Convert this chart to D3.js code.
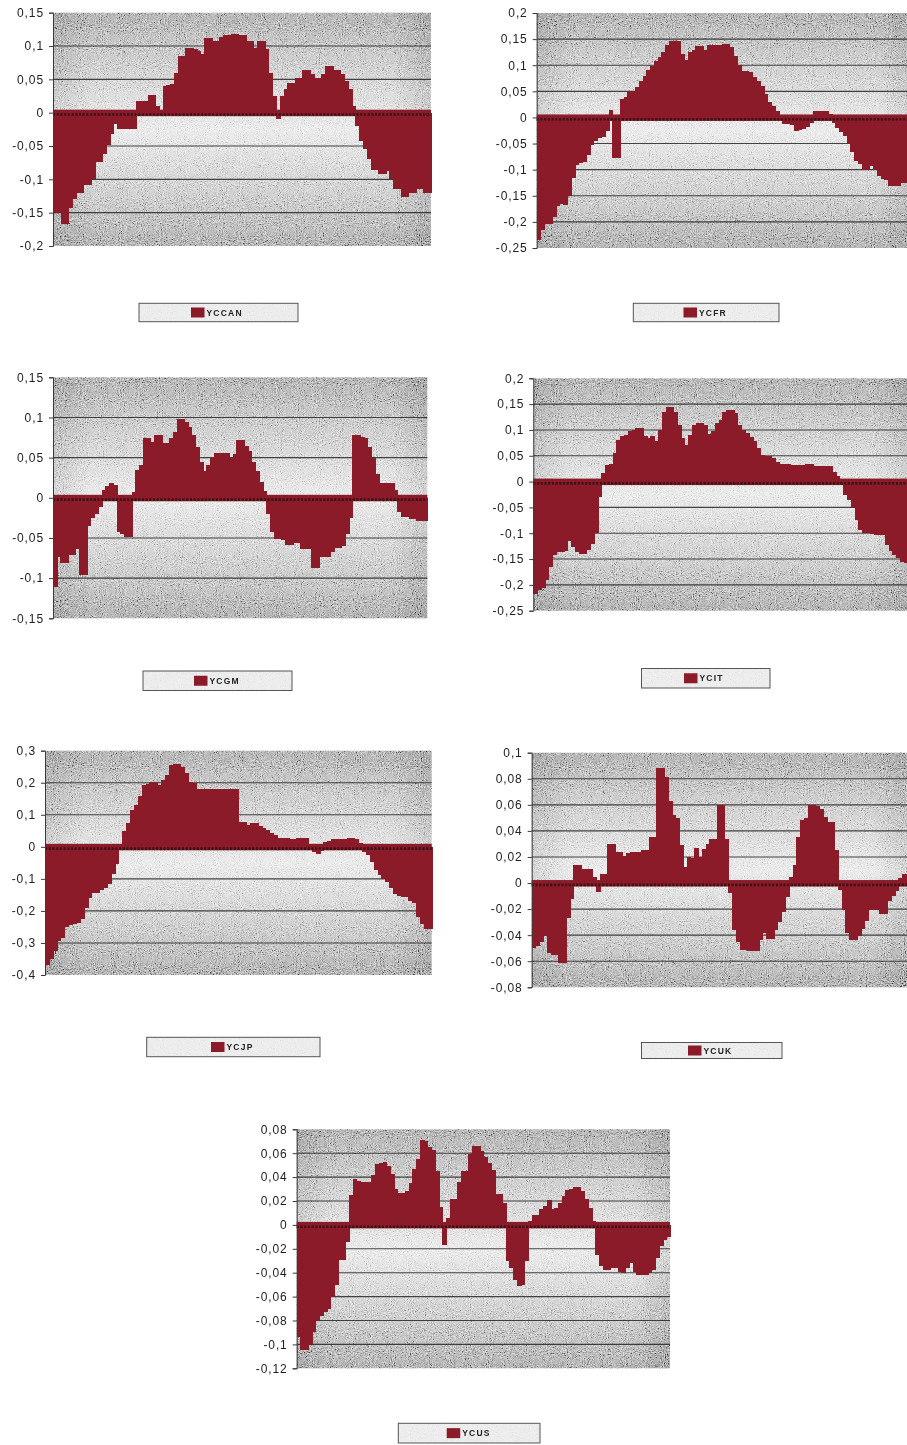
<!DOCTYPE html>
<html>
<head>
<meta charset="utf-8">
<script src="https://cdn.jsdelivr.net/npm/d3@7"></script>
<style>
  body { margin: 0; background: #ffffff; }
  svg { display: block; }
</style>
</head>
<body>
<svg id="chart" width="907" height="1445"></svg>
<script>
// ---- Data: yield-curve deviations per country, 100 periods each ----
const periods = d3.range(1, 101);

const ycCAN = [-0.15,-0.15,-0.167,-0.167,-0.143,-0.13,-0.12,-0.12,-0.109,-0.109,
  -0.10,-0.074,-0.074,-0.062,-0.048,-0.032,-0.017,-0.025,-0.025,-0.025,
  -0.025,-0.025,0.018,0.018,0.018,0.027,0.027,0.01,-0.005,0.04,
  0.042,0.043,0.06,0.085,0.085,0.097,0.097,0.095,0.093,0.088,
  0.112,0.112,0.108,0.108,0.113,0.116,0.116,0.118,0.118,0.116,
  0.116,0.107,0.107,0.097,0.107,0.107,0.095,0.06,0.025,-0.01,
  0.025,0.035,0.045,0.045,0.052,0.052,0.064,0.064,0.058,0.052,
  0.052,0.058,0.07,0.07,0.064,0.064,0.058,0.047,0.035,0.01,
  -0.02,-0.042,-0.055,-0.07,-0.086,-0.086,-0.092,-0.092,-0.088,-0.1,
  -0.115,-0.115,-0.126,-0.126,-0.12,-0.12,-0.115,-0.115,-0.12,-0.12];

const ycFR = [-0.234,-0.215,-0.204,-0.204,-0.19,-0.17,-0.165,-0.168,-0.15,-0.115,
  -0.092,-0.088,-0.085,-0.072,-0.052,-0.045,-0.04,-0.037,-0.026,0.015,
  -0.078,-0.078,0.035,0.04,0.05,0.05,0.059,0.07,0.08,0.09,
  0.098,0.108,0.115,0.125,0.138,0.146,0.146,0.146,0.122,0.11,
  0.125,0.13,0.137,0.137,0.13,0.138,0.138,0.139,0.139,0.141,
  0.141,0.135,0.117,0.101,0.088,0.088,0.087,0.077,0.07,0.061,
  0.045,0.029,0.022,0.012,0.004,-0.013,-0.013,-0.014,-0.026,-0.024,
  -0.022,-0.018,-0.01,0.012,0.012,0.012,0.012,0.006,-0.01,-0.02,
  -0.028,-0.035,-0.05,-0.067,-0.083,-0.09,-0.1,-0.1,-0.093,-0.1,
  -0.112,-0.117,-0.12,-0.131,-0.131,-0.131,-0.125,-0.125,-0.125,-0.128];

const ycGM = [-0.111,-0.074,-0.081,-0.081,-0.071,-0.071,-0.064,-0.096,-0.096,-0.035,
  -0.025,-0.02,-0.012,0.01,0.015,0.019,0.016,-0.043,-0.045,-0.049,
  -0.049,0.007,0.035,0.041,0.074,0.074,0.07,0.078,0.078,0.068,
  0.068,0.075,0.082,0.098,0.098,0.094,0.088,0.078,0.063,0.045,
  0.033,0.041,0.05,0.056,0.056,0.056,0.056,0.05,0.055,0.072,
  0.072,0.064,0.058,0.045,0.033,0.02,0.008,-0.02,-0.043,-0.051,
  -0.051,-0.053,-0.059,-0.059,-0.056,-0.056,-0.064,-0.064,-0.064,-0.088,
  -0.088,-0.074,-0.074,-0.074,-0.067,-0.063,-0.063,-0.06,-0.045,-0.025,
  0.078,0.078,0.076,0.075,0.063,0.049,0.03,0.019,0.019,0.019,
  0.019,0.01,-0.018,-0.024,-0.024,-0.026,-0.027,-0.029,-0.029,-0.029];

const ycIT = [-0.217,-0.21,-0.206,-0.19,-0.165,-0.142,-0.137,-0.137,-0.135,-0.115,
  -0.126,-0.137,-0.14,-0.14,-0.132,-0.12,-0.1,-0.03,0.016,0.032,
  0.035,0.055,0.081,0.088,0.09,0.097,0.1,0.103,0.103,0.088,
  0.085,0.088,0.079,0.1,0.135,0.144,0.144,0.135,0.11,0.085,
  0.071,0.09,0.11,0.113,0.113,0.11,0.092,0.097,0.113,0.119,
  0.135,0.139,0.139,0.132,0.11,0.1,0.094,0.087,0.079,0.065,
  0.052,0.05,0.05,0.045,0.037,0.035,0.035,0.035,0.033,0.032,
  0.032,0.033,0.034,0.034,0.031,0.03,0.03,0.03,0.03,0.019,
  0.01,-0.006,-0.026,-0.036,-0.052,-0.074,-0.094,-0.099,-0.099,-0.102,
  -0.103,-0.103,-0.103,-0.123,-0.135,-0.142,-0.148,-0.155,-0.158,-0.165];

const ycJP = [-0.37,-0.349,-0.325,-0.295,-0.286,-0.25,-0.245,-0.24,-0.238,-0.225,
  -0.19,-0.16,-0.144,-0.144,-0.135,-0.13,-0.115,-0.085,-0.055,0.01,
  0.05,0.075,0.115,0.13,0.16,0.193,0.195,0.203,0.203,0.193,
  0.21,0.224,0.255,0.258,0.258,0.25,0.229,0.203,0.2,0.182,
  0.182,0.182,0.182,0.182,0.182,0.182,0.182,0.182,0.182,0.182,
  0.078,0.078,0.068,0.073,0.073,0.065,0.06,0.052,0.042,0.036,
  0.028,0.026,0.026,0.025,0.024,0.026,0.026,0.026,-0.008,-0.015,
  -0.021,-0.012,0.015,0.019,0.023,0.023,0.023,0.023,0.028,0.028,
  0.023,0.012,-0.015,-0.025,-0.047,-0.073,-0.088,-0.1,-0.11,-0.13,
  -0.148,-0.154,-0.156,-0.156,-0.169,-0.175,-0.22,-0.24,-0.258,-0.258];

const ycUK = [-0.05,-0.048,-0.045,-0.041,-0.054,-0.055,-0.055,-0.061,-0.061,-0.027,
  -0.012,0.014,0.014,0.011,0.011,0.011,0.005,-0.007,0.007,0.007,
  0.03,0.03,0.024,0.024,0.021,0.023,0.024,0.024,0.024,0.025,
  0.025,0.035,0.035,0.088,0.088,0.081,0.063,0.052,0.05,0.029,
  0.012,0.02,0.019,0.027,0.02,0.026,0.03,0.034,0.034,0.06,
  0.06,0.034,-0.008,-0.036,-0.045,-0.051,-0.051,-0.052,-0.052,-0.052,
  -0.044,-0.038,-0.043,-0.043,-0.036,-0.03,-0.022,-0.011,0.005,0.014,
  0.035,0.048,0.05,0.06,0.06,0.059,0.057,0.051,0.047,0.047,
  0.025,-0.005,-0.021,-0.038,-0.044,-0.044,-0.041,-0.035,-0.029,-0.021,
  -0.021,-0.021,-0.024,-0.024,-0.014,-0.01,-0.006,0.004,0.007,0.007];

const ycUS = [-0.094,-0.105,-0.105,-0.1,-0.09,-0.08,-0.076,-0.073,-0.07,-0.06,
  -0.05,-0.029,-0.029,-0.014,0.025,0.038,0.037,0.036,0.036,0.036,
  0.042,0.051,0.052,0.053,0.049,0.043,0.03,0.027,0.027,0.028,
  0.035,0.047,0.055,0.071,0.07,0.065,0.063,0.045,0.015,-0.017,
  0.006,0.022,0.022,0.036,0.045,0.045,0.059,0.066,0.066,0.062,
  0.057,0.052,0.046,0.026,0.026,0.018,-0.03,-0.036,-0.046,-0.051,
  -0.05,-0.03,0.003,0.008,0.008,0.013,0.016,0.021,0.013,0.014,
  0.018,0.024,0.029,0.03,0.032,0.032,0.028,0.022,0.014,0.003,
  -0.025,-0.034,-0.038,-0.038,-0.036,-0.036,-0.039,-0.04,-0.036,-0.032,
  -0.039,-0.042,-0.042,-0.042,-0.04,-0.038,-0.028,-0.018,-0.013,-0.01];

// ---- Value-axis tick labels per chart ----
const ticksCAN = [-0.2, -0.15, -0.1, -0.05, 0, 0.05, 0.1, 0.15];
const ticksFR  = [-0.25, -0.2, -0.15, -0.1, -0.05, 0, 0.05, 0.1, 0.15, 0.2];
const ticksGM  = [-0.15, -0.1, -0.05, 0, 0.05, 0.1, 0.15];
const ticksIT  = [-0.25, -0.2, -0.15, -0.1, -0.05, 0, 0.05, 0.1, 0.15, 0.2];
const ticksJP  = [-0.4, -0.3, -0.2, -0.1, 0, 0.1, 0.2, 0.3];
const ticksUK  = [-0.08, -0.06, -0.04, -0.02, 0, 0.02, 0.04, 0.06, 0.08, 0.1];
const ticksUS  = [-0.12, -0.1, -0.08, -0.06, -0.04, -0.02, 0, 0.02, 0.04, 0.06, 0.08];

// ---- Layout: plot box [x, y, w, h] and legend box [x, y, w, h] ----
const charts = [
  { name: "YCCAN", values: ycCAN, ticks: ticksCAN, plot: [53, 12.7, 378, 233.3],   legend: [139, 303.3, 159, 18.4], swatchX: 191 },
  { name: "YCFR",  values: ycFR,  ticks: ticksFR,  plot: [536.7, 13, 378, 235],    legend: [633.3, 303.3, 145.7, 18.4], swatchX: 683.5 },
  { name: "YCGM",  values: ycGM,  ticks: ticksGM,  plot: [53, 377.3, 374.3, 241],  legend: [143, 671, 149, 19.5], swatchX: 194 },
  { name: "YCIT",  values: ycIT,  ticks: ticksIT,  plot: [533.3, 378.3, 378, 232.4], legend: [641.5, 668.5, 128.5, 19.5], swatchX: 684 },
  { name: "YCJP",  values: ycJP,  ticks: ticksJP,  plot: [45, 750.7, 386.7, 224.3], legend: [146.7, 1037.3, 173.3, 19.4], swatchX: 211 },
  { name: "YCUK",  values: ycUK,  ticks: ticksUK,  plot: [531.7, 752.7, 378, 234.6], legend: [641.5, 1042.5, 140.5, 16], swatchX: 688 },
  { name: "YCUS",  values: ycUS,  ticks: ticksUS,  plot: [296.7, 1129.3, 373.3, 239], legend: [398.3, 1423.3, 141.7, 19.7], swatchX: 446.7 }
];

const barColor = "#8c1b2a";
const fontFamily = "'Liberation Sans', Arial, Helvetica, sans-serif";
const fmt = v => String(+v.toFixed(2)).replace(".", ",");

const svg = d3.select("#chart");
const defs = svg.append("defs");

// Vertical light-in-the-middle shading of the plot area
const vGrad = defs.append("linearGradient").attr("id", "plotShade")
  .attr("x1", 0).attr("y1", 0).attr("x2", 0).attr("y2", 1);
[[0, "#939393"], [0.2, "#b7b7b7"], [0.5, "#e2e2e2"], [0.8, "#b7b7b7"], [1, "#919191"]]
  .forEach(([o, c]) => vGrad.append("stop").attr("offset", o).attr("stop-color", c));

// Slight darkening towards the left and right edges
const hGrad = defs.append("linearGradient").attr("id", "edgeShade")
  .attr("x1", 0).attr("y1", 0).attr("x2", 1).attr("y2", 0);
[[0, 0.14], [0.1, 0], [0.9, 0], [1, 0.16]]
  .forEach(([o, a]) => hGrad.append("stop").attr("offset", o).attr("stop-color", "#000").attr("stop-opacity", a));

// Paper grain texture
const grain = defs.append("filter").attr("id", "grain")
  .attr("x", 0).attr("y", 0).attr("width", "100%").attr("height", "100%");
grain.append("feTurbulence").attr("type", "fractalNoise").attr("baseFrequency", 0.95)
  .attr("numOctaves", 2).attr("seed", 11).attr("stitchTiles", "stitch");
grain.append("feColorMatrix").attr("type", "matrix")
  .attr("values", "0.33 0.33 0.33 0 0  0.33 0.33 0.33 0 0  0.33 0.33 0.33 0 0  0 0 0 0 1");
grain.append("feComponentTransfer").call(ct => {
  ["feFuncR", "feFuncG", "feFuncB"].forEach(fn =>
    ct.append(fn).attr("type", "linear").attr("slope", 3).attr("intercept", -1));
});

charts.forEach(c => {
  const [px, py, pw, ph] = c.plot;
  const g = svg.append("g").attr("transform", `translate(${px},${py})`);

  const x = d3.scaleBand().domain(periods).range([0, pw]).padding(0);
  const y = d3.scaleLinear().domain([d3.min(c.ticks), d3.max(c.ticks)]).range([ph, 0]);
  const y0 = y(0);

  // plot background
  g.append("rect").attr("width", pw).attr("height", ph).attr("fill", "url(#plotShade)");
  g.append("rect").attr("width", pw).attr("height", ph).attr("fill", "url(#edgeShade)");
  g.append("rect").attr("width", pw).attr("height", ph).attr("filter", "url(#grain)")
    .style("mix-blend-mode", "overlay").attr("opacity", 0.75);

  // horizontal gridlines at interior ticks
  g.append("g").selectAll("line")
    .data(c.ticks.filter(t => t !== d3.min(c.ticks) && t !== d3.max(c.ticks)))
    .join("line")
    .attr("x1", 0).attr("x2", pw)
    .attr("y1", d => y(d)).attr("y2", d => y(d))
    .attr("stroke", "#262626").attr("stroke-width", 1.1).attr("stroke-opacity", 0.85);

  // bars (crisp edges, each slightly widened so neighbours touch)
  g.append("g").attr("shape-rendering", "crispEdges").selectAll("rect")
    .data(c.values.map((v, i) => ({ p: periods[i], v })))
    .join("rect")
    .attr("x", d => x(d.p))
    .attr("width", x.bandwidth() + 1)
    .attr("y", d => Math.min(y(d.v), y0))
    .attr("height", d => Math.abs(y(d.v) - y0))
    .attr("fill", barColor);

  // category axis on the zero line: red band with dense dark tick labels
  g.append("rect").attr("x", 0).attr("y", y0 - 3).attr("width", pw).attr("height", 6.5)
    .attr("fill", barColor);
  g.append("line").attr("x1", 0).attr("x2", pw)
    .attr("y1", y0 + 1.8).attr("y2", y0 + 1.8)
    .attr("stroke", "#2b1212").attr("stroke-width", 2.6)
    .attr("stroke-dasharray", "2.2,1.5").attr("opacity", 0.85);

  // value axis
  const axis = d3.axisLeft(y).tickValues(c.ticks).tickSize(4).tickPadding(5).tickFormat(fmt);
  const ag = g.append("g").call(axis);
  ag.select(".domain").attr("stroke", "#3a3a3a").attr("stroke-width", 1);
  ag.selectAll(".tick line").attr("stroke", "#3a3a3a");
  ag.selectAll(".tick text")
    .attr("fill", "#222")
    .style("font-family", fontFamily)
    .style("font-size", "12px")
    .style("letter-spacing", "0.9px");

  // legend
  const [lx, ly, lw, lh] = c.legend;
  const lg = svg.append("g");
  lg.append("rect").attr("x", lx).attr("y", ly).attr("width", lw).attr("height", lh)
    .attr("fill", "#e9e9e9");
  lg.append("rect").attr("x", lx).attr("y", ly).attr("width", lw).attr("height", lh)
    .attr("filter", "url(#grain)").style("mix-blend-mode", "overlay").attr("opacity", 0.4);
  lg.append("rect").attr("x", lx).attr("y", ly).attr("width", lw).attr("height", lh)
    .attr("fill", "none").attr("stroke", "#555").attr("stroke-width", 1);
  const sh = 10, sw = 13.5;
  lg.append("rect").attr("x", c.swatchX).attr("y", ly + lh / 2 - sh / 2)
    .attr("width", sw).attr("height", sh).attr("fill", barColor);
  lg.append("text").attr("x", c.swatchX + sw + 2).attr("y", ly + lh / 2 + 3)
    .text(c.name)
    .attr("fill", "#222")
    .style("font-family", fontFamily)
    .style("font-weight", "bold")
    .style("font-size", "8.5px")
    .style("letter-spacing", "1.2px");
});
</script>
</body>
</html>
